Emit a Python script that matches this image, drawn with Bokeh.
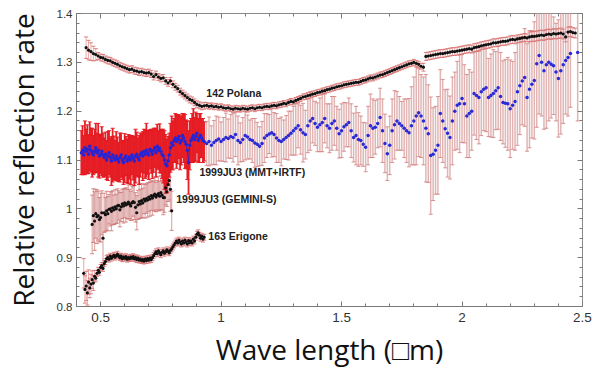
from bokeh.plotting import figure
from bokeh.models import (ColumnDataSource, Whisker, TeeHead, Range1d, LinearAxis,
                          FixedTicker, CustomJSTickFormatter, Label)
from bokeh.embed import file_html
from bokeh.resources import INLINE

# ---------------- data ----------------
# 142 Polana
pol_x = [0.44,0.45,0.46,0.47,0.48,0.49,0.50,0.51,0.52,0.53,
         0.54,0.55,0.56,0.57,0.58,0.59,0.60,0.61,0.62,0.63,
         0.64,0.65,0.66,0.67,0.68,0.69,0.70,0.71,0.72,0.73,
         0.74,0.75,0.76,0.77,0.78,0.79,0.80,0.81,0.82,0.83,
         0.84,0.85,0.86,0.87,0.88,0.89,0.90,0.91,0.92,0.93,
         0.94,0.95,0.96,0.97,0.98,0.99,1.00,1.01,1.02,1.03,
         1.04,1.05,1.06,1.07,1.08,1.09,1.10,1.11,1.12,1.13,
         1.14,1.15,1.16,1.17,1.18,1.19,1.20,1.21,1.22,1.23,
         1.24,1.25,1.26,1.27,1.28,1.29,1.30,1.31,1.32,1.33,
         1.34,1.35,1.36,1.37,1.38,1.39,1.40,1.41,1.42,1.43,
         1.44,1.45,1.46,1.47,1.48,1.49,1.50,1.51,1.52,1.53,
         1.54,1.55,1.56,1.57,1.58,1.59,1.60,1.61,1.62,1.63,
         1.64,1.65,1.66,1.67,1.68,1.69,1.70,1.71,1.72,1.73,
         1.74,1.75,1.76,1.77,1.78,1.79,1.80,1.81,1.82,1.83,
         1.84,1.85,1.86,1.87,1.88,1.89,1.90,1.91,1.92,1.93,
         1.94,1.95,1.96,1.97,1.98,1.99,2.00,2.01,2.02,2.03,
         2.04,2.05,2.06,2.07,2.08,2.09,2.10,2.11,2.12,2.13,
         2.14,2.15,2.16,2.17,2.18,2.19,2.20,2.21,2.22,2.23,
         2.24,2.25,2.26,2.27,2.28,2.29,2.30,2.31,2.32,2.33,
         2.34,2.35,2.36,2.37,2.38,2.39,2.40,2.41,2.42,2.43,
         2.44,2.45,2.46,2.47]
pol_y = [1.330,1.325,1.322,1.318,1.316,1.313,1.310,1.309,1.306,1.304,
         1.303,1.300,1.298,1.296,1.293,1.291,1.289,1.287,1.285,1.286,
         1.283,1.282,1.280,1.281,1.279,1.278,1.279,1.276,1.271,1.275,
         1.270,1.267,1.268,1.262,1.258,1.262,1.255,1.250,1.246,1.240,
         1.236,1.232,1.228,1.224,1.222,1.218,1.214,1.212,1.210,1.211,
         1.212,1.210,1.211,1.209,1.210,1.208,1.209,1.207,1.206,1.207,
         1.205,1.204,1.206,1.205,1.204,1.206,1.205,1.204,1.206,1.207,
         1.205,1.207,1.208,1.207,1.209,1.210,1.209,1.211,1.212,1.211,
         1.213,1.214,1.216,1.215,1.218,1.220,1.219,1.222,1.224,1.226,
         1.229,1.230,1.232,1.233,1.235,1.236,1.238,1.239,1.241,1.242,
         1.244,1.245,1.247,1.248,1.250,1.251,1.252,1.254,1.255,1.256,
         1.257,1.258,1.259,1.259,1.261,1.263,1.264,1.266,1.268,1.268,
         1.270,1.272,1.274,1.275,1.277,1.279,1.281,1.283,1.285,1.287,
         1.289,1.291,1.293,1.295,1.297,1.298,1.300,1.298,1.296,1.292,
         1.290,1.312,1.313,1.314,1.315,1.316,1.317,1.318,1.318,1.319,
         1.320,1.321,1.322,1.322,1.323,1.324,1.325,1.326,1.327,1.328,
         1.327,1.330,1.331,1.332,1.334,1.335,1.336,1.337,1.338,1.340,
         1.340,1.341,1.342,1.343,1.343,1.344,1.346,1.347,1.346,1.348,
         1.349,1.350,1.351,1.350,1.352,1.353,1.353,1.354,1.355,1.356,
         1.355,1.357,1.358,1.357,1.359,1.358,1.359,1.360,1.358,1.352,
         1.362,1.363,1.361,1.360]
pol_err = ([0.022,0.020,0.018,0.015,0.012] + [0.007]*45 + [0.006]*90
           + [0.008]*44 + [0.010]*20)

# 1999JU3 (MMT) -- red error bars, blue points
mmt_x = [0.420,0.425,0.430,0.435,0.440,0.445,0.450,0.455,0.460,0.465,
         0.470,0.475,0.480,0.485,0.490,0.495,0.500,0.505,0.510,0.515,
         0.520,0.525,0.530,0.535,0.540,0.545,0.550,0.555,0.560,0.565,
         0.570,0.575,0.580,0.585,0.590,0.595,0.600,0.605,0.610,0.615,
         0.620,0.625,0.630,0.635,0.640,0.645,0.650,0.655,0.660,0.665,
         0.670,0.675,0.680,0.685,0.690,0.695,0.700,0.705,0.710,0.715,
         0.720,0.725,0.730,0.735,0.740,0.745,0.750,0.755,0.760,0.765,
         0.770,0.775,0.780,0.785,0.790,0.795,0.800,0.805,0.810,0.815,
         0.820,0.825,0.830,0.835,0.840,0.845,0.850,0.855,0.860,0.865,
         0.870,0.875,0.880,0.885,0.890,0.895,0.900,0.905,0.910,0.915,
         0.920,0.925,0.930]
mmt_y = [1.115,1.120,1.110,1.125,1.118,1.122,1.112,1.128,1.120,1.115,
         1.110,1.118,1.125,1.115,1.120,1.108,1.112,1.118,1.110,1.105,
         1.112,1.100,1.108,1.115,1.105,1.098,1.110,1.104,1.100,1.108,
         1.102,1.096,1.105,1.110,1.100,1.095,1.104,1.108,1.098,1.102,
         1.106,1.100,1.110,1.104,1.098,1.108,1.112,1.105,1.100,1.110,
         1.115,1.108,1.118,1.112,1.120,1.115,1.110,1.122,1.118,1.112,
         1.120,1.125,1.115,1.128,1.120,1.124,1.118,1.112,1.108,1.100,
         1.092,1.088,1.098,1.110,1.125,1.135,1.130,1.140,1.145,1.138,
         1.142,1.148,1.135,1.140,1.150,1.145,1.138,1.132,1.120,1.095,
         1.130,1.140,1.145,1.150,1.142,1.148,1.155,1.140,1.145,1.150,
         1.145,1.140,1.138]
mmt_err = [0.045,0.050,0.040,0.055,0.045,0.050,0.040,0.050,0.045,0.050,
           0.040,0.045,0.050,0.040,0.055,0.045,0.040,0.050,0.045,0.040,
           0.045,0.040,0.050,0.045,0.040,0.050,0.055,0.045,0.040,0.050,
           0.045,0.040,0.050,0.045,0.040,0.045,0.050,0.040,0.045,0.050,
           0.045,0.050,0.040,0.045,0.050,0.055,0.045,0.040,0.050,0.045,
           0.040,0.050,0.045,0.050,0.055,0.045,0.050,0.040,0.045,0.050,
           0.045,0.040,0.050,0.045,0.040,0.050,0.045,0.050,0.055,0.060,
           0.060,0.055,0.050,0.045,0.050,0.055,0.050,0.045,0.050,0.055,
           0.050,0.045,0.055,0.050,0.045,0.050,0.055,0.050,0.060,0.065,
           0.050,0.045,0.050,0.055,0.045,0.050,0.040,0.045,0.050,0.045,
           0.040,0.045,0.040]

# 1999JU3 (IRTF) -- pink error bars, blue points
irtf_x = [0.94,0.95,0.96,0.97,0.98,0.99,1.00,1.01,1.02,1.03,
          1.04,1.05,1.06,1.07,1.08,1.09,1.10,1.11,1.12,1.13,
          1.14,1.15,1.16,1.17,1.18,1.19,1.20,1.21,1.22,1.23,
          1.24,1.25,1.26,1.27,1.28,1.29,1.30,1.31,1.32,1.33,
          1.34,1.35,1.36,1.37,1.38,1.39,1.40,1.41,1.42,1.43,
          1.44,1.45,1.46,1.47,1.48,1.49,1.50,1.51,1.52,1.53,
          1.54,1.55,1.56,1.57,1.58,1.59,1.60,1.61,1.62,1.63,
          1.64,1.65,1.66,1.67,1.68,1.69,1.70,1.71,1.72,1.73,
          1.74,1.75,1.76,1.77,1.78,1.79,1.80,1.81,1.82,1.83,
          1.84,1.85,1.86,1.87,1.88,1.89,1.90,1.91,1.92,1.93,
          1.94,1.95,1.96,1.97,1.98,1.99,2.00,2.01,2.02,2.03,
          2.04,2.05,2.06,2.07,2.08,2.09,2.10,2.11,2.12,2.13,
          2.14,2.15,2.16,2.17,2.18,2.19,2.20,2.21,2.22,2.23,
          2.24,2.25,2.26,2.27,2.28,2.29,2.30,2.31,2.32,2.33,
          2.34,2.35,2.36,2.37,2.38,2.39,2.40,2.41,2.42,2.43,
          2.44,2.45,2.48]
irtf_y = [1.134,1.138,1.130,1.136,1.140,1.143,1.138,1.142,1.146,1.144,
          1.148,1.146,1.152,1.140,1.136,1.142,1.150,1.147,1.142,1.140,
          1.135,1.132,1.128,1.134,1.145,1.150,1.153,1.156,1.152,1.145,
          1.140,1.138,1.142,1.146,1.150,1.155,1.160,1.165,1.170,1.162,
          1.156,1.152,1.170,1.180,1.185,1.175,1.167,1.172,1.177,1.185,
          1.170,1.165,1.175,1.180,1.165,1.154,1.160,1.168,1.172,1.177,
          1.160,1.146,1.150,1.142,1.140,1.132,1.126,1.150,1.170,1.165,
          1.167,1.175,1.187,1.160,1.134,1.113,1.130,1.160,1.172,1.180,
          1.175,1.170,1.165,1.160,1.156,1.170,1.180,1.190,1.197,1.190,
          1.180,1.165,1.154,1.109,1.112,1.120,1.130,1.195,1.180,1.164,
          1.155,1.146,1.180,1.200,1.212,1.215,1.226,1.215,1.190,1.195,
          1.200,1.236,1.232,1.228,1.240,1.245,1.248,1.228,1.232,1.236,
          1.242,1.248,1.230,1.218,1.216,1.215,1.205,1.212,1.220,1.240,
          1.252,1.262,1.269,1.228,1.245,1.255,1.263,1.297,1.314,1.300,
          1.283,1.295,1.300,1.296,1.293,1.280,1.267,1.283,1.295,1.304,
          1.310,1.318,1.320]
irtf_err = [0.045,0.050,0.040,0.045,0.050,0.045,0.040,0.045,0.050,0.040,
            0.045,0.050,0.045,0.050,0.040,0.045,0.050,0.045,0.040,0.045,
            0.050,0.045,0.040,0.045,0.050,0.045,0.040,0.050,0.045,0.050,
            0.045,0.050,0.040,0.045,0.050,0.045,0.050,0.055,0.045,0.050,
            0.060,0.050,0.055,0.060,0.050,0.045,0.050,0.055,0.060,0.050,
            0.045,0.050,0.055,0.050,0.045,0.050,0.055,0.050,0.045,0.050,
            0.055,0.050,0.060,0.055,0.050,0.045,0.050,0.060,0.065,0.060,
            0.055,0.050,0.060,0.065,0.060,0.055,0.060,0.065,0.070,0.060,
            0.055,0.050,0.060,0.065,0.070,0.080,0.090,0.100,0.090,0.085,
            0.090,0.110,0.100,0.120,0.095,0.090,0.100,0.090,0.085,0.080,
            0.090,0.085,0.090,0.080,0.090,0.100,0.090,0.080,0.085,0.090,
            0.080,0.085,0.090,0.095,0.090,0.085,0.090,0.080,0.085,0.090,
            0.080,0.085,0.090,0.085,0.090,0.095,0.100,0.090,0.100,0.110,
            0.100,0.090,0.100,0.110,0.120,0.110,0.120,0.130,0.120,0.110,
            0.120,0.130,0.120,0.110,0.100,0.100,0.120,0.130,0.120,0.110,
            0.120,0.110,0.140]

# 1999JU3 (GEMINI-S)
gem_x = [0.465,0.470,0.475,0.480,0.485,0.490,0.495,0.500,0.505,0.510,
         0.515,0.520,0.525,0.530,0.535,0.540,0.545,0.550,0.555,0.560,
         0.565,0.570,0.575,0.580,0.585,0.590,0.595,0.600,0.605,0.610,
         0.615,0.620,0.625,0.630,0.635,0.640,0.645,0.650,0.655,0.660,
         0.665,0.670,0.675,0.680,0.685,0.690,0.695,0.700,0.705,0.710,
         0.715,0.720,0.725,0.730,0.735,0.740,0.745,0.750,0.755,0.760,
         0.765,0.770,0.775,0.780,0.785,0.790,0.795]
gem_y = [0.968,0.986,0.975,0.990,0.984,0.986,0.978,0.982,0.992,0.940,
         0.992,0.988,0.996,0.990,0.999,1.000,0.995,1.002,0.998,1.004,
         1.000,1.006,1.007,0.998,1.004,1.010,1.006,1.012,1.008,1.010,
         1.014,1.010,1.006,1.012,1.015,1.013,1.003,0.992,1.008,1.015,
         1.010,1.017,1.012,1.020,1.016,1.021,1.018,1.024,1.020,1.027,
         1.022,1.027,1.030,1.024,1.028,1.031,1.026,1.033,1.028,1.023,
         1.023,1.043,1.035,1.050,1.058,1.040,0.996]
gem_err = [0.060,0.055,0.060,0.050,0.055,0.050,0.045,0.050,0.045,0.050,
           0.040,0.035,0.040,0.035,0.030,0.035,0.040,0.035,0.030,0.035,
           0.030,0.035,0.030,0.035,0.030,0.030,0.035,0.030,0.035,0.030,
           0.035,0.030,0.030,0.035,0.030,0.035,0.030,0.035,0.030,0.035,
           0.030,0.035,0.030,0.030,0.035,0.030,0.035,0.030,0.035,0.030,
           0.035,0.030,0.035,0.030,0.030,0.035,0.030,0.035,0.030,0.035,
           0.030,0.035,0.030,0.035,0.040,0.045,0.040]

# 163 Erigone
eri_x = [0.430,0.435,0.440,0.445,0.450,0.455,0.460,0.465,0.470,0.475,
         0.480,0.485,0.490,0.495,0.500,0.505,0.510,0.515,0.520,0.525,
         0.530,0.535,0.540,0.545,0.550,0.555,0.560,0.565,0.570,0.575,
         0.580,0.585,0.590,0.595,0.600,0.605,0.610,0.615,0.620,0.625,
         0.630,0.635,0.640,0.645,0.650,0.655,0.660,0.665,0.670,0.675,
         0.680,0.685,0.690,0.695,0.700,0.705,0.710,0.715,0.720,0.725,
         0.730,0.735,0.740,0.745,0.750,0.755,0.760,0.765,0.770,0.775,
         0.780,0.785,0.790,0.795,0.800,0.805,0.810,0.815,0.820,0.825,
         0.830,0.835,0.840,0.845,0.850,0.855,0.860,0.865,0.870,0.875,
         0.880,0.885,0.890,0.895,0.900,0.905,0.910,0.915,0.920,0.925,
         0.930]
eri_y = [0.868,0.835,0.842,0.828,0.850,0.838,0.846,0.855,0.848,0.862,
         0.858,0.868,0.874,0.870,0.880,0.884,0.878,0.888,0.892,0.898,
         0.900,0.897,0.903,0.899,0.902,0.905,0.901,0.904,0.907,0.903,
         0.900,0.903,0.898,0.901,0.899,0.902,0.897,0.900,0.898,0.901,
         0.899,0.902,0.898,0.900,0.896,0.899,0.895,0.897,0.894,0.896,
         0.893,0.897,0.894,0.898,0.895,0.899,0.896,0.900,0.904,0.908,
         0.912,0.908,0.914,0.910,0.906,0.911,0.914,0.909,0.912,0.916,
         0.913,0.910,0.915,0.918,0.922,0.926,0.930,0.934,0.930,0.936,
         0.932,0.928,0.934,0.930,0.936,0.932,0.928,0.935,0.931,0.934,
         0.930,0.938,0.934,0.942,0.948,0.951,0.946,0.940,0.944,0.938,
         0.942]
eri_err = ([0.030,0.028,0.030,0.025,0.025,0.020,0.020,0.018,0.015,0.012]
           + [0.006]*91)

x_ticks = [0.5, 1.0, 1.5, 2.0, 2.5]
y_ticks = [0.8, 0.9, 1.0, 1.1, 1.2, 1.3, 1.4]
x_minor = [0.4, 0.6, 0.7, 0.8, 0.9, 1.1, 1.2, 1.3, 1.4, 1.6, 1.7, 1.8, 1.9,
           2.1, 2.2, 2.3, 2.4]
y_minor = [0.82, 0.84, 0.86, 0.88, 0.92, 0.94, 0.96, 0.98, 1.02, 1.04, 1.06, 1.08,
           1.12, 1.14, 1.16, 1.18, 1.22, 1.24, 1.26, 1.28, 1.32, 1.34, 1.36, 1.38]

labels = ["142 Polana", "1999JU3 (MMT+IRTF)", "1999JU3 (GEMINI-S)", "163 Erigone"]
label_pos = [(0.939, 1.237), (0.910, 1.076), (0.814, 1.021), (0.947, 0.944)]

x_title = "Wave length (\u25a1m)"
y_title = "Relative reflection rate"

# ---------------- figure ----------------
p = figure(width=593, height=371, x_range=Range1d(0.4, 2.5), y_range=Range1d(0.8, 1.4),
           output_backend="svg", toolbar_location=None,
           min_border_left=73, min_border_right=11, min_border_top=13, min_border_bottom=65,
           x_axis_type=None, y_axis_type=None)
p.background_fill_color = "white"
p.border_fill_color = "white"
p.outline_line_color = "#8a8a8a"
p.outline_line_width = 1
p.xgrid.visible = False
p.ygrid.visible = False

fmt = CustomJSTickFormatter(code="return String(parseFloat(tick.toFixed(2)));")
blank = CustomJSTickFormatter(code="return '';")

def style_axis(ax, font_size):
    ax.axis_line_color = "#7a7a7a"
    ax.axis_line_width = 1
    ax.major_tick_in = 5
    ax.major_tick_out = 0
    ax.minor_tick_in = 3
    ax.minor_tick_out = 0
    ax.major_tick_line_color = "#7a7a7a"
    ax.minor_tick_line_color = "#7a7a7a"
    ax.major_label_text_font = "Liberation Sans"
    ax.major_label_text_color = "#333333"
    ax.major_label_text_font_size = font_size

xb = LinearAxis(ticker=FixedTicker(ticks=x_ticks, minor_ticks=x_minor), formatter=fmt)
style_axis(xb, "13.5px")
xb.major_label_standoff = 6
xb.axis_label = x_title
xb.axis_label_text_font = "Open Sans"
xb.axis_label_text_font_size = "28px"
xb.axis_label_text_font_style = "normal"
xb.axis_label_text_color = "#111111"
xb.axis_label_standoff = 5
p.add_layout(xb, "below")

yl = LinearAxis(ticker=FixedTicker(ticks=y_ticks, minor_ticks=y_minor), formatter=fmt)
style_axis(yl, "11.5px")
yl.major_label_standoff = 4
yl.axis_label = y_title
yl.axis_label_text_font = "Open Sans"
yl.axis_label_text_font_size = "28px"
yl.axis_label_text_font_style = "normal"
yl.axis_label_text_color = "#111111"
yl.axis_label_standoff = 12
p.add_layout(yl, "left")

xt = LinearAxis(ticker=FixedTicker(ticks=x_ticks, minor_ticks=x_minor), formatter=blank)
style_axis(xt, "1px")
xt.major_label_standoff = 0
xt.axis_line_color = None
p.add_layout(xt, "above")
yr = LinearAxis(ticker=FixedTicker(ticks=y_ticks, minor_ticks=y_minor), formatter=blank)
style_axis(yr, "1px")
yr.major_label_standoff = 0
yr.axis_line_color = None
p.add_layout(yr, "right")

def err_source(xs, ys, es):
    return ColumnDataSource(dict(x=xs, y=ys,
                                 lo=[a - b for a, b in zip(ys, es)],
                                 hi=[a + b for a, b in zip(ys, es)]))

def add_whiskers(src, color, cap_color, alpha, width=1):
    w = Whisker(base="x", lower="lo", upper="hi", source=src, dimension="height",
                line_color=color, line_alpha=alpha, line_width=width,
                lower_head=TeeHead(size=4, line_color=cap_color, line_alpha=alpha),
                upper_head=TeeHead(size=4, line_color=cap_color, line_alpha=alpha))
    p.add_layout(w)

pink = "#dba3a3"
pink_cap = "#d27a7a"

irtf_src = err_source(irtf_x, irtf_y, irtf_err)
mmt_src = err_source(mmt_x, mmt_y, mmt_err)
pol_src = err_source(pol_x, pol_y, pol_err)
gem_src = err_source(gem_x, gem_y, gem_err)
eri_src = err_source(eri_x, eri_y, eri_err)

add_whiskers(irtf_src, pink, pink_cap, 0.8, width=1.5)
add_whiskers(gem_src, pink, pink_cap, 0.9, width=1.2)
add_whiskers(mmt_src, "#e5161d", "#e5161d", 0.95, width=1.8)
add_whiskers(pol_src, "#e6a0a0", "#d87070", 0.9)
add_whiskers(eri_src, "#e6a0a0", "#d87070", 0.9)

p.scatter("x", "y", source=irtf_src, size=3.5, color="#2a2ad6", line_width=0)
p.line("x", "y", source=mmt_src, color="#2525d8", line_width=0.8)
p.scatter("x", "y", source=mmt_src, size=3.5, color="#2525d8", line_width=0)
p.scatter("x", "y", source=pol_src, size=3.2, color="#111111", line_width=0)
p.scatter("x", "y", source=gem_src, size=3.2, color="#111111", line_width=0)
p.scatter("x", "y", source=eri_src, size=3.2, color="#111111", line_width=0)

for txt, (lx, ly) in zip(labels, label_pos):
    p.add_layout(Label(x=lx, y=ly, text=txt, text_font="Liberation Sans",
                       text_font_style="bold", text_font_size="10.5px",
                       text_color="#222222", text_baseline="alphabetic"))

open("out.html", "w").write(file_html(p, INLINE))
